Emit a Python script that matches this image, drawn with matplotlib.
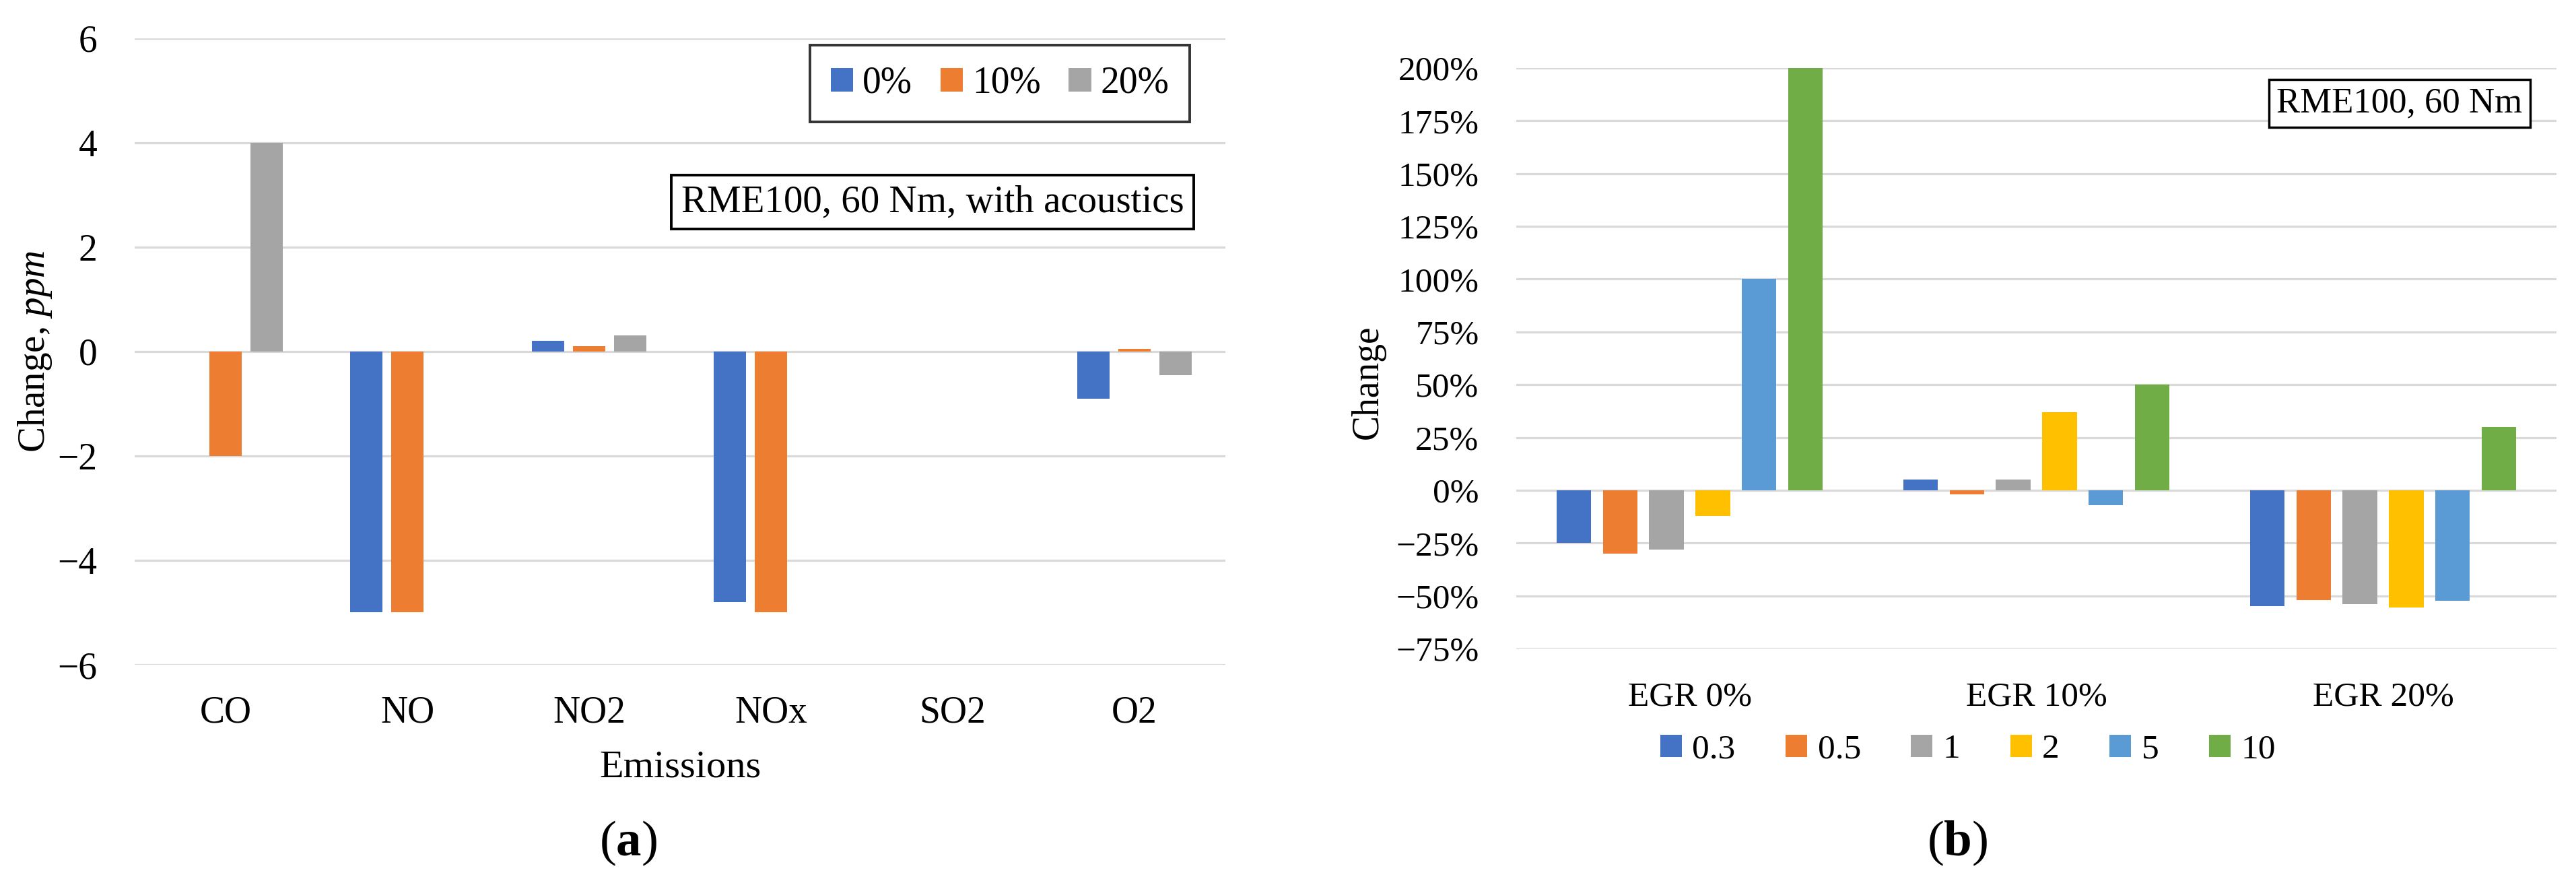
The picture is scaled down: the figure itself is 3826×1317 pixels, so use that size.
import numpy as np
import matplotlib
matplotlib.use("Agg")
import matplotlib.pyplot as plt
from matplotlib.ticker import PercentFormatter

plt.rcParams['font.family'] = ['Liberation Serif', 'DejaVu Serif']
plt.rcParams['mathtext.fontset'] = 'custom'
plt.rcParams['mathtext.rm'] = 'Liberation Serif'
plt.rcParams['mathtext.it'] = 'Liberation Serif:italic'
plt.rcParams['mathtext.bf'] = 'Liberation Serif:bold'

# panel (a) data
emissions = ["CO", "NO", "NO2", "NOx", "SO2", "O2"]
egr_levels_a = ["0%", "10%", "20%"]
change_0 = [0.0, -5.0, 0.2, -4.8, 0.0, -0.9]
change_10 = [-2.0, -5.0, 0.1, -5.0, 0.0, 0.05]
change_20 = [4.0, 0.0, 0.3, 0.0, 0.0, -0.45]

# panel (b) data
egr_groups = ["EGR 0%", "EGR 10%", "EGR 20%"]
freq_labels = ["0.3", "0.5", "1", "2", "5", "10"]
pct_03 = [-0.25, 0.05, -0.55]
pct_05 = [-0.30, -0.02, -0.52]
pct_1 = [-0.28, 0.05, -0.54]
pct_2 = [-0.12, 0.37, -0.555]
pct_5 = [1.00, -0.07, -0.525]
pct_10 = [2.00, 0.50, 0.30]

colors = ["#4472C4", "#ED7D31", "#A5A5A5", "#FFC000", "#5B9BD5", "#70AD47"]
grid_c = "#D9D9D9"

W, H = 3826, 1317
fig = plt.figure(figsize=(W / 100, H / 100), dpi=100)


def fx(px):
    return px / W


def fy(py):
    return 1 - py / H


def style_axes(ax, fs, xpad):
    for s in ax.spines.values():
        s.set_visible(False)
    ax.yaxis.grid(True, color=grid_c, linewidth=2.3, zorder=0)
    ax.set_axisbelow(True)
    ax.tick_params(axis='both', length=0, labelsize=fs)
    ax.tick_params(axis='y', pad=40)
    ax.tick_params(axis='x', pad=xpad)


# ---------- (a) ----------
axa = fig.add_axes([fx(200), fy(987), fx(1620), (987 - 56.5) / H])
xa = np.arange(len(emissions))
series_a = [change_0, change_10, change_20]
for i, vals in enumerate(series_a):
    axa.bar(xa + (i - 1) * 0.226, vals, width=0.178, color=colors[i],
            label=egr_levels_a[i], zorder=3)
axa.set_xlim(-0.5, len(emissions) - 0.5)
axa.set_ylim(-6, 6)
axa.set_yticks([-6, -4, -2, 0, 2, 4, 6])
axa.set_xticks(xa)
axa.set_xticklabels(emissions)
style_axes(axa, 40, 33)
axa.set_ylabel(r"Change, $\mathit{ppm}$", fontsize=41)
axa.yaxis.set_label_coords(-0.074, 0.5)
fig.text(fx(1010), fy(1139), "Emissions", fontsize=42, ha='center', va='center')

leg_a = axa.legend(loc='center', bbox_to_anchor=(fx(1485), fy(124)),
                   bbox_transform=fig.transFigure, ncol=3, fontsize=40,
                   frameon=True, fancybox=False, handlelength=0.6,
                   handleheight=0.6, handletextpad=0.25, columnspacing=0.75,
                   borderpad=0.55, borderaxespad=0)
leg_a.get_frame().set_edgecolor('black')
leg_a.get_frame().set_linewidth(2.8)

fig.text(fx(1385), fy(300), "RME100, 60 Nm, with acoustics", fontsize=41,
         ha='center', va='center',
         bbox=dict(boxstyle='square,pad=0.25', facecolor='white',
                   edgecolor='black', linewidth=2.8))

fig.text(fx(933), fy(1252), r"($\mathbf{a}$)", fontsize=54, ha='center', va='center')

# ---------- (b) ----------
axb = fig.add_axes([fx(2252), fy(963), fx(1545), (963 - 101) / H])
xb = np.arange(len(egr_groups))
series_b = [pct_03, pct_05, pct_1, pct_2, pct_5, pct_10]
for i, vals in enumerate(series_b):
    axb.bar(xb + (i - 2.5) * 0.1336, vals, width=0.1, color=colors[i],
            label=freq_labels[i], zorder=3)
axb.set_xlim(-0.5, len(egr_groups) - 0.5)
axb.set_ylim(-0.75, 2.0)
axb.set_yticks(np.arange(-0.75, 2.01, 0.25))
axb.yaxis.set_major_formatter(PercentFormatter(xmax=1, decimals=0))
axb.set_xticks(xb)
axb.set_xticklabels(egr_groups)
style_axes(axb, 37, 35)
axb.set_ylabel("Change", fontsize=40)
axb.yaxis.set_label_coords(-0.126, 0.459)

axb.legend(loc='center', bbox_to_anchor=(fx(2923), fy(1113)),
           bbox_transform=fig.transFigure, ncol=6, fontsize=37,
           frameon=False, handlelength=0.62, handleheight=0.62,
           handletextpad=0.3, columnspacing=1.45, borderaxespad=0)

fig.text(fx(3564), fy(153.5), "RME100, 60 Nm", fontsize=38,
         ha='center', va='center',
         bbox=dict(boxstyle='square,pad=0.22', facecolor='white',
                   edgecolor='black', linewidth=2.5))

fig.text(fx(2907), fy(1252), r"($\mathbf{b}$)", fontsize=54, ha='center', va='center')

fig.savefig("out.png", dpi=100, facecolor='white')
